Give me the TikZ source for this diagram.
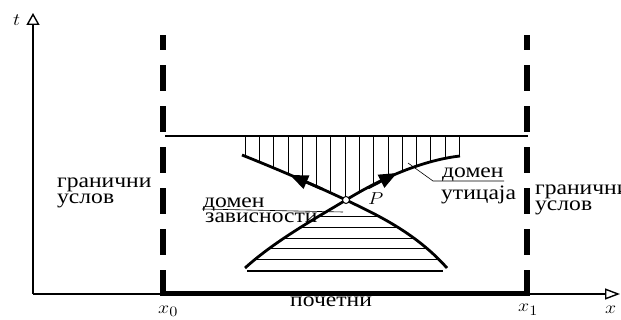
\documentclass[tikz,border=0pt]{standalone}
\usepackage{fontspec}
\setmainfont{Liberation Serif}
\usetikzlibrary{arrows.meta}
\newcommand{\sx}[1]{\scalebox{1.15}[1]{#1}}
\begin{document}
\begin{tikzpicture}[x=1pt,y=-1pt,
  lab/.style={anchor=base west,inner sep=0pt,font=\fontsize{20.5}{20.5}\selectfont},
  mlab/.style={anchor=base west,inner sep=0pt,font=\fontsize{19}{19}\selectfont},
  axisline/.style={line width=1.4pt},
  bound/.style={line width=5.5pt,dash pattern=on 26pt off 15pt},
  charline/.style={line width=2.8pt},
  hatch/.style={line width=0.9pt},
  leader/.style={line width=0.6pt}]
\useasboundingbox (0,0) rectangle (621,320);
% axes
\coordinate (O) at (33,294);
\coordinate (T) at (33,13);
\coordinate (X) at (620,294);
\draw[axisline,-{Triangle[open,length=12pt,width=13pt]}] (O) -- (T);
\draw[axisline,-{Triangle[open,length=15pt,width=11pt]}] (O) -- (X);
% boundaries
\coordinate (L0) at (163,296);
\coordinate (L1) at (163,35);
\coordinate (R0) at (527,296);
\coordinate (R1) at (527,35);
\draw[bound] (L0) -- (L1);
\draw[bound] (R0) -- (R1);
\coordinate (B0) at (160.3,293.5);
\coordinate (B1) at (529.7,293.5);
\draw[line width=5pt] (B0) -- (B1);
\coordinate (H0) at (165,136);
\coordinate (H1) at (528,136);
\draw[line width=1.3pt] (H0) -- (H1);
% characteristic curves
\coordinate (AU) at (242,155);
\coordinate (AL) at (447,268);
\coordinate (BU) at (460,156);
\coordinate (BL) at (245,268);
\coordinate (PC) at (346,200);
% hatching upper
\begin{scope}
\clip (240,136) -- (462,136) -- (BU) .. controls (425,160) and (385,176) .. (PC)
  .. controls (312,184) and (277,169) .. (AU) -- cycle;
\foreach \k in {0,...,15} \draw[hatch] ({245.3+14.27*\k},130) -- ++(0,80);
\end{scope}
% hatching lower
\begin{scope}
\clip (PC) .. controls (375,214) and (415,232) .. (AL) -- (447,280) -- (245,280)
  -- (BL) .. controls (276,240) and (318,217) .. (PC) -- cycle;
\foreach \yy in {216.7,227.4,238.1,248.8,259.5} \draw[hatch] (230,\yy) -- (470,\yy);
\end{scope}
\coordinate (F0) at (247,271);
\coordinate (F1) at (443,271);
\draw[line width=1.1pt] (F0) -- (F1);
\draw[charline] (AU) .. controls (277,169) and (312,184) .. (PC)
  .. controls (375,214) and (415,232) .. (AL);
\draw[charline] (BU) .. controls (425,160) and (385,176) .. (PC)
  .. controls (318,217) and (276,240) .. (BL);
% arrowheads
\coordinate (a1s) at (322,189);
\coordinate (a1e) at (290,175);
\coordinate (a2s) at (368,188);
\coordinate (a2e) at (397,173);
\draw[charline,-{Triangle[length=18pt,width=14pt]}] (a1s) -- (a1e);
\draw[charline,-{Triangle[length=18pt,width=14pt]}] (a2s) -- (a2e);
\node[circle,draw,fill=white,line width=1pt,minimum size=7pt,inner sep=0pt] (P) at (PC) {};
% leaders
\coordinate (l1a) at (202,209);
\coordinate (l1b) at (343,212);
\draw[leader] (l1a) -- (l1b);
\coordinate (l2a) at (408,163);
\coordinate (l2b) at (433,181);
\coordinate (l2c) at (504,181);
\draw[leader] (l2a) -- (l2b) -- (l2c);
% labels
\node[mlab] (tl) at (13,26) {\sx{$t$}};
\node[mlab] (x0) at (158,313) {\sx{$x_0$}};
\node[mlab] (x1) at (518,312) {\sx{$x_1$}};
\node[mlab] (xl) at (605,313) {\sx{$x$}};
\node[mlab] (Pl) at (368,205) {\sx{$P$}};
\node[lab] (g1) at (57,188) {\sx{гранични}};
\node[lab] (u1) at (57,204) {\sx{услов}};
\node[lab] (g2) at (535,195) {\sx{гранични}};
\node[lab] (u2) at (535,211) {\sx{услов}};
\node[lab] (d1) at (442,178) {\sx{домен}};
\node[lab] (ut) at (441,200) {\sx{утицаја}};
\node[lab] (d2) at (203,208) {\sx{домен}};
\node[lab] (za) at (205,222.5) {\sx{зависности}};
\node[lab] (po) at (290,307) {\sx{почетни}};
\end{tikzpicture}
\end{document}
